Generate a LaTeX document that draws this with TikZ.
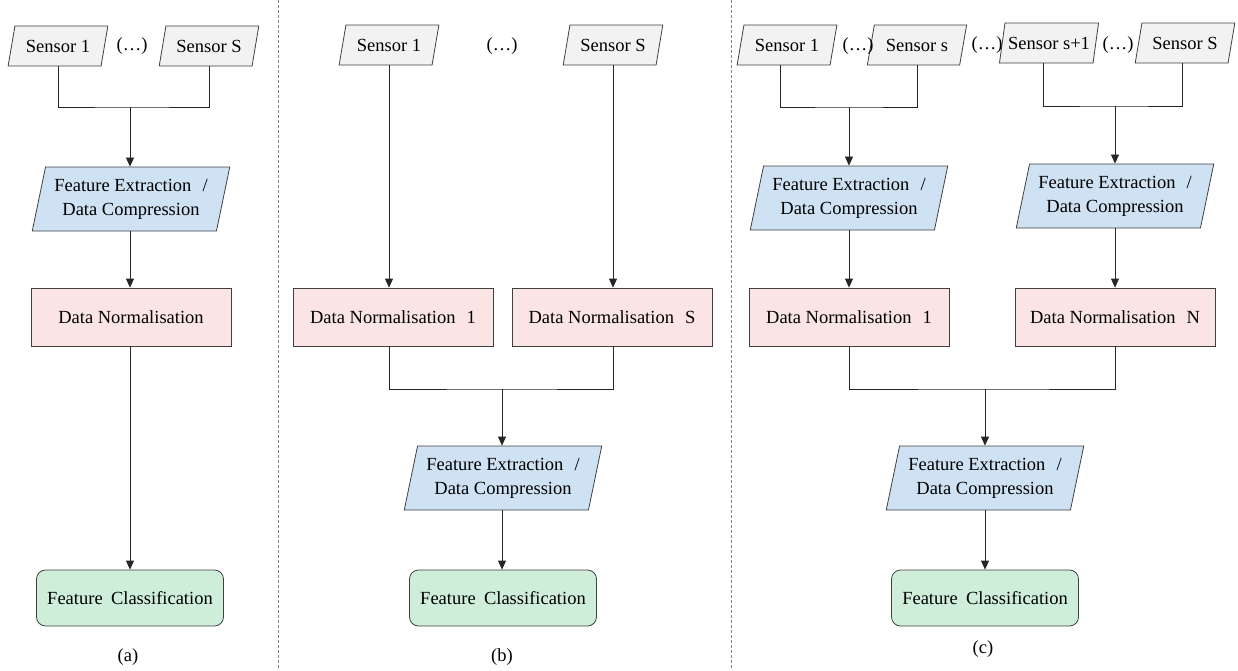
\documentclass[tikz,border=0pt]{standalone}
\usepackage{fontspec}
\setmainfont{Liberation Serif}
\usepackage{tikz}
\usetikzlibrary{shapes.geometric,arrows.meta}

\definecolor{sensorgray}{RGB}{242,242,242}
\definecolor{feblue}{RGB}{207,226,243}
\definecolor{dnpink}{RGB}{250,228,228}
\definecolor{fcgreen}{RGB}{206,238,218}

\begin{document}
\begin{tikzpicture}[x=1pt,y=-1pt,
    every node/.style={font=\rmfamily\fontsize{18.5}{24}\selectfont},
    para/.style={trapezium,trapezium left angle=70,trapezium right angle=110,
      trapezium stretches=true,draw=black!75,line width=0.8pt,inner sep=1pt},
    sensorbox/.style={para,fill=sensorgray,minimum width=100pt,minimum height=40pt},
    febox/.style={para,fill=feblue,minimum width=198pt,minimum height=64pt,align=center,
      trapezium left angle=74,trapezium right angle=106},
    dnbox/.style={draw=black!75,line width=0.8pt,fill=dnpink,minimum width=200pt,minimum height=58pt},
    fcbox/.style={draw=black!75,line width=0.8pt,fill=fcgreen,rounded corners=9pt,
      minimum width=187pt,minimum height=56pt},
    wire/.style={draw=black!85,line width=0.8pt},
    arr/.style={wire,-{Triangle[length=9pt,width=8pt]}}]

    \useasboundingbox (0,0) rectangle (1238,670);

    \draw[gray,line width=0.8pt,dash pattern=on 3pt off 2pt] (278,0) -- (278,670);
    \draw[gray,line width=0.8pt,dash pattern=on 3pt off 2pt] (731,0) -- (731,670);

    \node[sensorbox] (a1) at (58,46) {Sensor 1};
    \node[sensorbox] (aS) at (209,46) {Sensor S};
    \node (adots) at (132,46) {(…)};
    \coordinate (aj) at (130,107);
    \node[febox] (afe) at (131,199) {Feature Extraction\hspace{0.6em}/\\Data Compression};
    \node[dnbox] (adn) at (131,317) {Data Normalisation};
    \node[fcbox] (afc) at (130,598) {Feature\hspace{0.45em}Classification};
    \node (alab) at (128,657) {(a)};
    \draw[wire] (a1.south) |- (aj) -| (aS.south);
    \draw[arr] (aj) -- (aj |- afe.north);
    \draw[arr] (aj |- afe.south) -- (aj |- adn.north);
    \draw[arr] (aj |- adn.south) -- (aj |- afc.north);

    \node[sensorbox] (b1) at (389,45) {Sensor 1};
    \node[sensorbox] (bS) at (613,45) {Sensor S};
    \node (bdots) at (502,46) {(…)};
    \node[dnbox] (bdn1) at (393,317) {Data Normalisation\hspace{0.6em}1};
    \node[dnbox] (bdnS) at (612,317) {Data Normalisation\hspace{0.6em}S};
    \coordinate (bj) at (502,389);
    \node[febox] (bfe) at (503,478) {Feature Extraction\hspace{0.6em}/\\Data Compression};
    \node[fcbox] (bfc) at (503,598) {Feature\hspace{0.45em}Classification};
    \node (blab) at (502,657) {(b)};
    \draw[arr] (b1.south) -- (b1.south |- bdn1.north);
    \draw[arr] (bS.south) -- (bS.south |- bdnS.north);
    \draw[wire] (b1.south |- bdn1.south) |- (bj) -| (bS.south |- bdnS.south);
    \draw[arr] (bj) -- (bj |- bfe.north);
    \draw[arr] (bj |- bfe.south) -- (bj |- bfc.north);

    \node[sensorbox] (c1) at (787,45) {Sensor 1};
    \node[sensorbox] (cs) at (917,45) {Sensor s};
    \node[sensorbox] (cs1) at (1049,43) {Sensor s+1};
    \node[sensorbox] (cS) at (1185,43) {Sensor S};
    \foreach \x/\y/\n in {858/46/1,987/45/2,1118/45/3}
    {
      \node (cdots\n) at (\x,\y) {(…)};
    }
    \coordinate (cj1) at (849,107);
    \coordinate (cj2) at (1115,106);
    \node[febox] (cfe1) at (849,198) {Feature Extraction\hspace{0.6em}/\\Data Compression};
    \node[febox] (cfe2) at (1115,196) {Feature Extraction\hspace{0.6em}/\\Data Compression};
    \node[dnbox] (cdn1) at (849,317) {Data Normalisation\hspace{0.6em}1};
    \node[dnbox] (cdnN) at (1115,317) {Data Normalisation\hspace{0.6em}N};
    \coordinate (cj3) at (985,389);
    \node[febox] (cfe3) at (985,478) {Feature Extraction\hspace{0.6em}/\\Data Compression};
    \node[fcbox] (cfc) at (985,598) {Feature\hspace{0.45em}Classification};
    \node (clab) at (983,649) {(c)};
    \draw[wire] ([xshift=-7pt]c1.south) |- (cj1) -| (cs.south);
    \draw[wire] ([xshift=-6pt]cs1.south) |- (cj2) -| ([xshift=-3pt]cS.south);
    \draw[arr] (cj1) -- (cj1 |- cfe1.north);
    \draw[arr] (cj2) -- (cj2 |- cfe2.north);
    \draw[arr] (cj1 |- cfe1.south) -- (cj1 |- cdn1.north);
    \draw[arr] (cj2 |- cfe2.south) -- (cj2 |- cdnN.north);
    \draw[wire] (cdn1.south) |- (cj3) -| (cdnN.south);
    \draw[arr] (cj3) -- (cj3 |- cfe3.north);
    \draw[arr] (cj3 |- cfe3.south) -- (cj3 |- cfc.north);
\end{tikzpicture}
\end{document}
